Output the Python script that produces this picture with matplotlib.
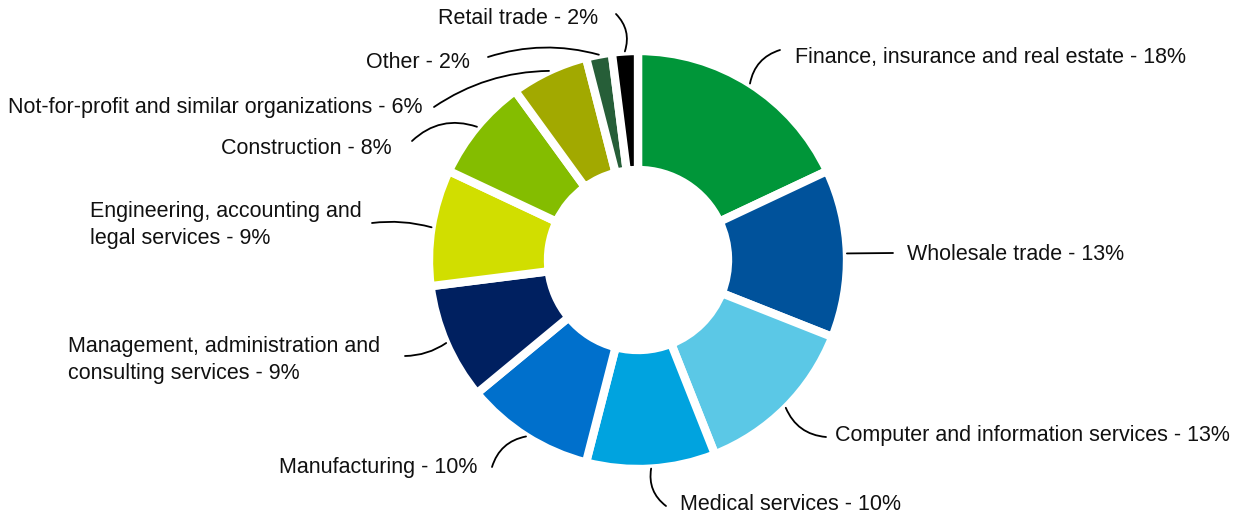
import matplotlib.pyplot as plt
import numpy as np

# --- data ---
sectors = [
    "Finance, insurance and real estate",
    "Wholesale trade",
    "Computer and information services",
    "Medical services",
    "Manufacturing",
    "Management, administration and\nconsulting services",
    "Engineering, accounting and\nlegal services",
    "Construction",
    "Not-for-profit and similar organizations",
    "Other",
    "Retail trade",
]
shares = [18, 13, 13, 10, 10, 9, 9, 8, 6, 2, 2]
colors = ["#009639", "#00529B", "#5BC8E6", "#00A3DF", "#0070CC", "#002060",
          "#D1DE00", "#84BD00", "#A2A900", "#265E38", "#000000"]

# label layout in pixel coords (x, y from top): text anchor, line start, alignment, curve
label_pos = [(795, 57), (907, 254), (835, 436), (680, 504), (477, 467), (380, 360),
             (362, 225), (392, 148), (422, 107), (470, 62), (598, 18)]
line_start = [(780, 50), (893, 253), (826, 437), (666, 506), (492, 467), (405, 356),
              (372, 223), (412, 141), (434, 107), (488, 57), (616, 14)]
ha_list = ["left", "left", "left", "left", "right", "right",
           "right", "right", "right", "right", "right"]
curve = [0.3, 0.0, -0.3, -0.3, -0.3, 0.15, -0.1, -0.3, -0.15, -0.15, -0.3]

W, H = 1242, 517
CX, CY, R, R_IN = 638, 257, 209, 90

plt.rcParams['font.family'] = ['Liberation Sans', 'DejaVu Sans']

fig = plt.figure(figsize=(W / 100, H / 100), dpi=100)
ax = fig.add_axes([0, 0, 1, 1])

wedges, _ = ax.pie(shares, colors=colors, startangle=90, counterclock=False,
                   center=(CX, CY), radius=R, frame=True,
                   wedgeprops=dict(width=R - R_IN, edgecolor='white', linewidth=6))
ax.set_xlim(0, W)
ax.set_ylim(0, H)
ax.set_aspect('equal')
ax.axis('off')

for i, w in enumerate(wedges):
    ang = np.deg2rad((w.theta1 + w.theta2) / 2)
    px = CX + R * np.cos(ang)
    py = CY + R * np.sin(ang)
    sx, sy = line_start[i]
    ax.annotate("", xy=(px, py), xytext=(sx, H - sy),
                arrowprops=dict(arrowstyle='-', color='black', lw=1.3,
                                shrinkA=0, shrinkB=0,
                                connectionstyle=f"arc3,rad={curve[i]}"))
    tx, ty = label_pos[i]
    ax.text(tx, H - ty, f"{sectors[i]} - {shares[i]}%", ha=ha_list[i], va='center',
            fontsize=15.5, color='#111111', linespacing=1.4,
            multialignment='left')

fig.savefig("out.png", dpi=100)
